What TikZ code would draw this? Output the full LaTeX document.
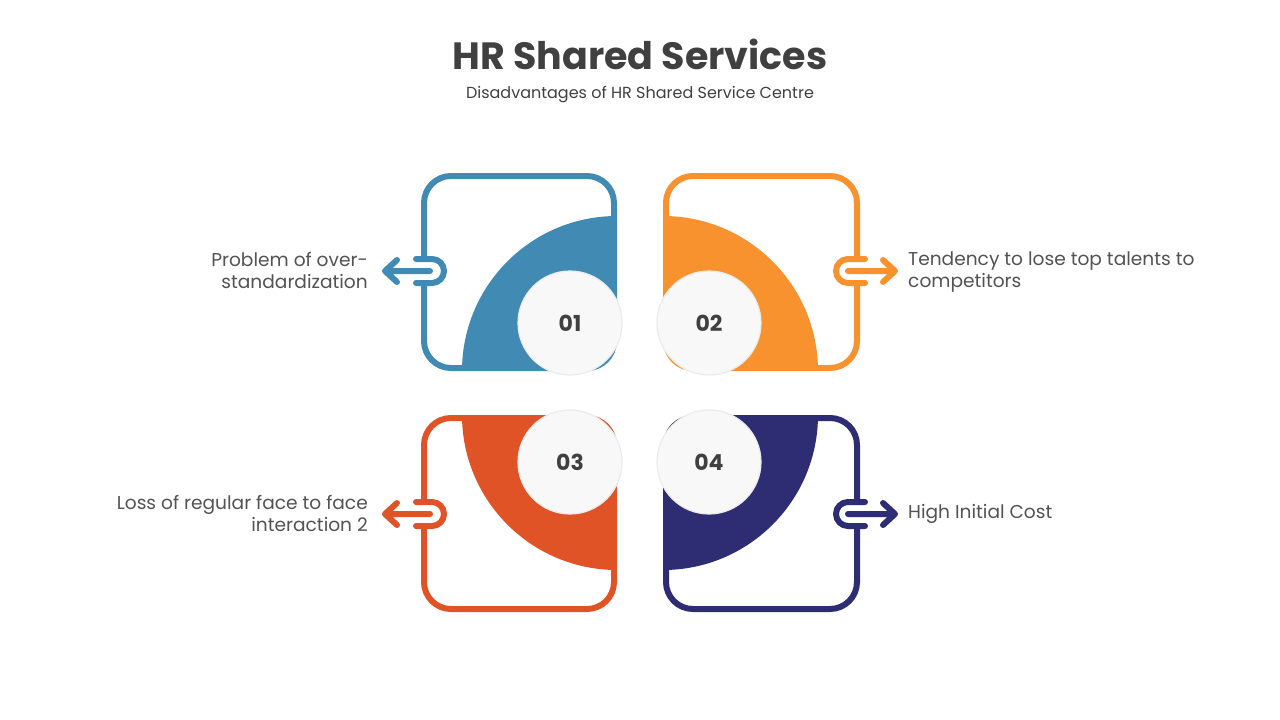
\documentclass[tikz,border=0pt]{standalone}
\usepackage{fontspec}
\setmainfont{Poppins}
\usetikzlibrary{calc}
\definecolor{hrblue}{HTML}{418AB3}
\definecolor{hrorange}{HTML}{F7922E}
\definecolor{hrred}{HTML}{E05326}
\definecolor{hrnavy}{HTML}{2E2D73}
\definecolor{hrtext}{HTML}{404040}
\definecolor{hrbadge}{HTML}{F8F8F8}
\tikzset{
	boxline/.style={line width=6pt, rounded corners=27pt, line cap=round},
	hookline/.style={line width=6pt, line cap=round, line join=round},
	badge/.style={circle, minimum size=104pt, inner sep=0pt, fill=hrbadge, draw=black!8, line width=1.2pt, text=hrtext, font=\bfseries\fontsize{22}{26}\selectfont},
	txt/.style={inner sep=0pt, text=hrtext!90, font=\fontsize{18.6}{22}\selectfont},
}
\def\petal[#1](#2)(#3){\begin{scope}\clip[rounded corners=27pt] (#2) rectangle ++(191,192); \fill[#1] (#3) circle (155);\end{scope}}

\begin{document}
\begin{tikzpicture}[x=1pt, y=-1pt]
		%%%%% START %%%%%
		\useasboundingbox[fill=white] (0, 0) rectangle (1280, 720);
		
		\node[inner sep=0pt, text=hrtext, font=\bfseries\fontsize{38}{44}\selectfont] (title) at (640, 54) {HR Shared Services};
		\node[inner sep=0pt, text=hrtext, font=\fontsize{16}{19}\selectfont] (subtitle) at (640, 95) {Disadvantages of HR Shared Service Centre};
		
		\petal[hrblue](423, 176)(617, 371);
		\petal[hrorange](666, 176)(663, 371);
		\petal[hrred](423, 418)(617, 415);
		\petal[hrnavy](666, 418)(663, 415);
		
		\draw[boxline, hrblue] (424, 283) -- (424, 368) -- (614, 368) -- (614, 176) -- (424, 176) -- (424, 259);
		\draw[boxline, hrorange] (857, 283) -- (857, 368) -- (666, 368) -- (666, 176) -- (857, 176) -- (857, 259);
		\draw[boxline, hrred] (424, 526) -- (424, 609) -- (614, 609) -- (614, 418) -- (424, 418) -- (424, 502);
		\draw[boxline, hrnavy] (857, 526) -- (857, 609) -- (666, 609) -- (666, 418) -- (857, 418) -- (857, 502);
		
		\draw[hookline, hrblue] (416, 259) -- (432, 259) arc (-90:90:12) -- (416, 283);
		\draw[hookline, hrorange] (865, 259) -- (848, 259) arc (-90:-270:12) -- (865, 283);
		\draw[hookline, hrred] (416, 502) -- (432, 502) arc (-90:90:12) -- (416, 526);
		\draw[hookline, hrnavy] (865, 502) -- (848, 502) arc (-90:-270:12) -- (865, 526);
		
		\coordinate (s1) at (430, 271); \coordinate (e1) at (385, 271);
		\coordinate (s2) at (848, 271); \coordinate (e2) at (895, 271);
		\coordinate (s3) at (430, 514); \coordinate (e3) at (385, 514);
		\coordinate (s4) at (848, 514); \coordinate (e4) at (895, 514);
		\draw[hookline, hrblue] (s1) -- (e1) ($(e1)+(12,-11)$) -- (e1) -- ($(e1)+(12,11)$);
		\draw[hookline, hrorange] (s2) -- (e2) ($(e2)+(-12,-11)$) -- (e2) -- ($(e2)+(-12,11)$);
		\draw[hookline, hrred] (s3) -- (e3) ($(e3)+(12,-11)$) -- (e3) -- ($(e3)+(12,11)$);
		\draw[hookline, hrnavy] (s4) -- (e4) ($(e4)+(-12,-11)$) -- (e4) -- ($(e4)+(-12,11)$);
		
		\node[badge] (c1) at (570, 323) {01};
		\node[badge] (c2) at (709, 323) {02};
		\node[badge] (c3) at (570, 462) {03};
		\node[badge] (c4) at (709, 462) {04};
		
		\node[txt, anchor=east, align=right] (t1) at (368, 270) {Problem of over-\\standardization};
		\node[txt, anchor=west, align=left] (t2) at (908, 272) {Tendency to lose top talents to\\competitors};
		\node[txt, anchor=east, align=right] (t3) at (368, 513) {Loss of regular face to face\\interaction 2};
		\node[txt, anchor=west, align=left] (t4) at (908, 514) {High Initial Cost};
		
		%%%%% END %%%%%
\end{tikzpicture}
\end{document}
